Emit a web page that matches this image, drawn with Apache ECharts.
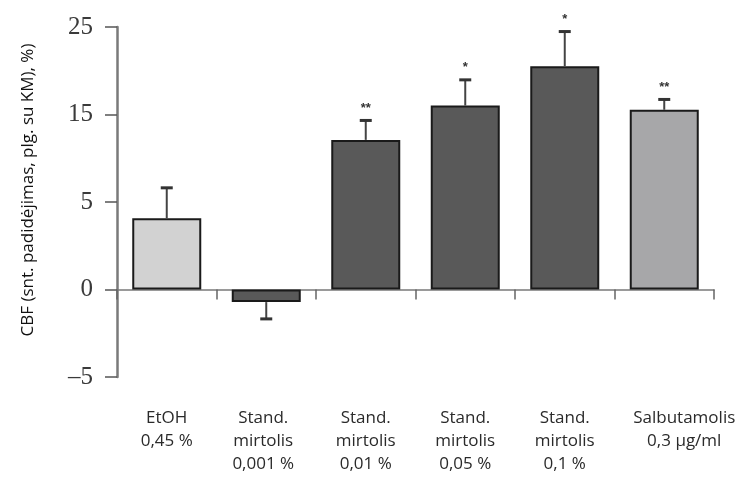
<!DOCTYPE html>
<html><head><meta charset="utf-8">
<script src="https://cdn.jsdelivr.net/npm/echarts@6/dist/echarts.min.js"></script>
<style>html,body{margin:0;padding:0;background:#fff}#c{width:744px;height:477px}</style>
</head><body><div id="c"></div>
<script>
// Categories (x axis labels)
const categories = ['EtOH\n0,45 %', 'Stand.\nmirtolis\n0,001 %', 'Stand.\nmirtolis\n0,01 %', 'Stand.\nmirtolis\n0,05 %', 'Stand.\nmirtolis\n0,1 %', 'Salbutamolis\n0,3 µg/ml'];
// Bar values (in axis units, as drawn)
const barValues = [4.07, -0.72, 8.55, 10.51, 12.76, 10.27];
// Error bar ends (in axis units)
const errorEnds = [5.81, -1.68, 9.66, 11.98, 14.74, 10.86];
// Significance marks
const marks = ['', '', '**', '*', '*', '**'];
const barColors = ['#d2d2d2', '#595959', '#595959', '#595959', '#595959', '#a7a7a9'];
// Y tick values and their printed labels
const yTickValues = [-5, 0, 5, 10, 15];
const yTickLabels = ['\u20135', '0', '5', '15', '25'];

const labelShift = [0, -6, 0, 0, 0, 40];

const chart = echarts.init(document.getElementById('c'));
chart.setOption({
  animation: false,
  grid: {left: 117, right: 30, top: 27, bottom: 100, containLabel: false, outerBoundsMode: 'none'},
  xAxis: {
    type: 'category',
    data: categories.map((c, i) => ({value: c, textStyle: labelShift[i] > 0 ? {padding: [0, 0, 0, labelShift[i]]} : (labelShift[i] < 0 ? {padding: [0, -labelShift[i], 0, 0]} : {})})),
    axisLine: {onZero: true, lineStyle: {color: '#7a7a7a', width: 1.5}},
    axisTick: {show: true, length: 10, lineStyle: {color: '#666', width: 1.5}},
    axisLabel: {interval: 0, margin: 30, color: '#2a2a2a', fontFamily: 'Open Sans', fontSize: 17, lineHeight: 23, hideOverlap: false}
  },
  yAxis: {
    type: 'value', min: -5, max: 15, interval: 5,
    name: 'CBF (snt. padidėjimas, plg. su KM), %)',
    nameLocation: 'middle', nameGap: 80, nameRotate: 90,
    nameTextStyle: {fontFamily: 'Open Sans', fontSize: 17, color: '#111', padding: [0, 0, 0, 24]},
    splitLine: {show: false},
    axisLine: {show: true, lineStyle: {color: '#7a7a7a', width: 2.5}},
    axisTick: {show: true, length: 12, lineStyle: {color: '#555', width: 1.5}},
    axisLabel: {margin: 24, color: '#3a3a3a', fontFamily: 'Liberation Serif', fontSize: 25,
      formatter: v => { const i = yTickValues.indexOf(v); return i >= 0 ? yTickLabels[i] : ''; }}
  },
  series: [
    {
      type: 'bar', barWidth: 69, z: 2,
      data: barValues.map((v, i) => ({value: v, itemStyle: {color: barColors[i]}})),
      itemStyle: {borderColor: '#1a1a1a', borderWidth: 2}
    },
    {
      type: 'custom', z: 3,
      data: errorEnds.map((e, i) => [i, barValues[i], e, marks[i]]),
      renderItem: function (params, api) {
        const i = api.value(0);
        const p0 = api.coord([i, api.value(1)]);
        const p1 = api.coord([i, api.value(2)]);
        const hw = 6;
        const children = [
          {type: 'line', shape: {x1: p0[0], y1: p0[1], x2: p1[0], y2: p1[1]}, style: {stroke: '#444', lineWidth: 2}},
          {type: 'line', shape: {x1: p1[0] - hw, y1: p1[1], x2: p1[0] + hw, y2: p1[1]}, style: {stroke: '#333', lineWidth: 3}}
        ];
        const m = marks[params.dataIndex];
        if (m) {
          children.push({type: 'text', style: {text: m, x: p1[0], y: p1[1] - 6, textAlign: 'center', textVerticalAlign: 'bottom', fill: '#333', font: 'bold 13px Liberation Sans'}});
        }
        return {type: 'group', children: children};
      }
    }
  ]
});
</script></body></html>
